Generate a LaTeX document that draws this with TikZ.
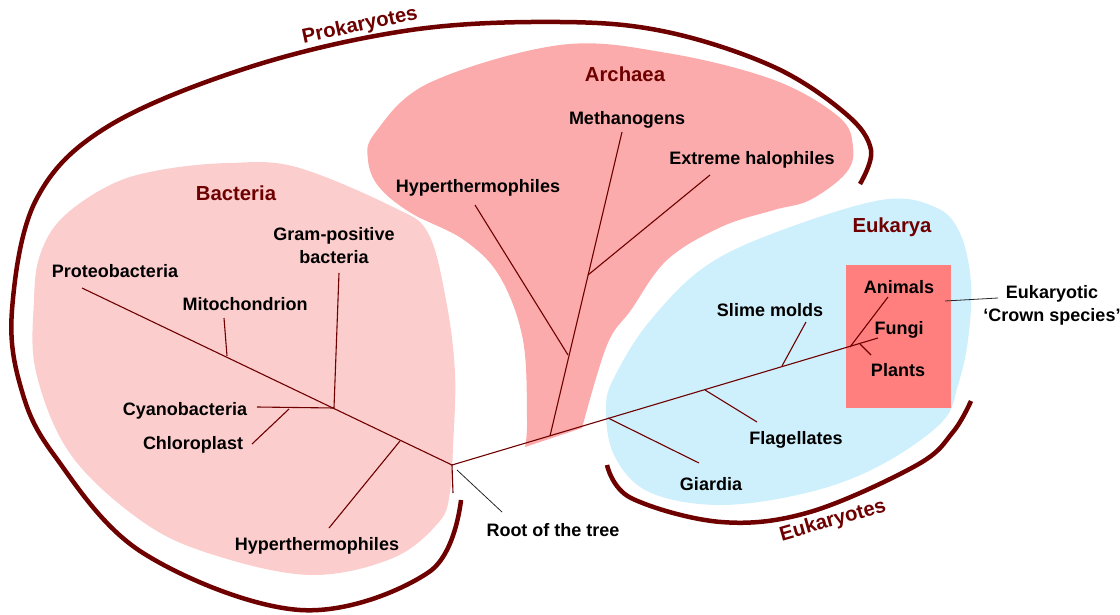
\documentclass[tikz,border=0pt]{standalone}
\usepackage{fontspec}
\setmainfont{Liberation Sans}
\usepackage{xcolor}
\usepackage{tikz}
\usetikzlibrary{positioning}
\definecolor{treeline}{RGB}{110,0,0}
\definecolor{bactfill}{RGB}{252,205,205}
\definecolor{archfill}{RGB}{251,171,171}
\definecolor{eukfill}{RGB}{206,240,252}
\definecolor{crownfill}{RGB}{255,127,127}

\begin{document}
\begin{tikzpicture}[x=1pt, y=-1pt,
  lbl/.style={font=\bfseries\fontsize{18}{23}\selectfont, inner sep=1pt, align=center},
  ttl/.style={font=\bfseries\fontsize{20.3}{24}\selectfont, text=treeline, inner sep=1pt},
  br/.style={draw=treeline, line width=1.1pt},
  grp/.style={draw=treeline, line width=4.5pt},
  ptr/.style={draw=black!85, line width=0.8pt}]
  \useasboundingbox (0,0) rectangle (1120,615);
  % the three domains
  \fill[bactfill] plot[smooth cycle, tension=0.6] coordinates {(229,163) (296,167) (393,207) (428,233) (446,300)
    (455,373) (453,447) (450,492) (439,522) (393,558) (311,575) (214,555) (143,522) (71,455) (36,372) (34,300)
    (40,255) (62,218) (110,185) (160,170)};
  \fill[archfill] plot[smooth, tension=0.6] coordinates {(582,428) (607,345) (631,310) (667,260) (721,227) (774,210)
    (810,200) (846,173) (853,147) (839,117) (774,80) (667,53) (560,45) (429,83) (375,133) (368,160) (379,187)
    (411,213) (464,240) (500,277) (523,340) (527,420) (525,447)} -- cycle;
  \fill[eukfill] plot[smooth cycle, tension=0.6] coordinates {(649,322) (703,268) (774,233) (881,200) (935,207)
    (960,233) (971,283) (968,340) (958,385) (942,422) (881,465) (810,492) (721,505) (649,492) (614,455) (606,405)
    (617,372)};
  \fill[crownfill] (846,265) rectangle (951,408);
  % prokaryotes and eukaryotes brackets
  \draw[grp] plot[smooth, tension=0.6] coordinates {(860,184) (871,150) (846,114) (774,67) (667,32) (560,22)
    (411,30) (250,67) (107,127) (36,200) (12,310) (21,388) (54,455) (143,553) (300,610) (429,572) (461,500)};
  \draw[grp] plot[smooth, tension=0.6] coordinates {(607,465) (631,498) (721,522) (810,512) (917,465) (953,432)
    (971,401)};
  \node[ttl, rotate=12]  (prok)  at (360,26)  {Prokaryotes};
  \node[ttl, rotate=16]  (euks)  at (833,521) {Eukaryotes};
  \node[ttl]             (bact)  at (236,193) {Bacteria};
  \node[ttl]             (arch)  at (625,74)  {Archaea};
  \node[ttl]             (euk)   at (892,227) {Eukarya};
  % labels
  \node[lbl] (proteo)  at (115,271)  {Proteobacteria};
  \node[lbl] (mito)    at (245,304)  {Mitochondrion};
  \node[lbl] (gram)    at (334,246)  {Gram-positive\\bacteria};
  \node[lbl] (cyano)   at (185,411)  {Cyanobacteria};
  \node[lbl] (chloro)  at (193,445)  {Chloroplast};
  \node[lbl] (hyperb)  at (317,546)  {Hyperthermophiles};
  \node[lbl] (rootlbl) at (553,530)  {Root of the tree};
  \node[lbl] (hypera)  at (478,188)  {Hyperthermophiles};
  \node[lbl] (metha)   at (627,120)  {Methanogens};
  \node[lbl] (halo)    at (752,160)  {Extreme halophiles};
  \node[lbl] (slime)   at (770,310)  {Slime molds};
  \node[lbl] (flag)    at (796,440)  {Flagellates};
  \node[lbl] (giardia) at (711,484)  {Giardia};
  \node[lbl] (animals) at (899,287)  {Animals};
  \node[lbl] (fungi)   at (899,330)  {Fungi};
  \node[lbl] (plants)  at (898,370)  {Plants};
  \node[lbl] (crown)   at (1052,305) {Eukaryotic\\‘Crown species’};
  % tree points
  \coordinate (root)   at (452,465);
  \coordinate (stub)   at (453,493);
  \coordinate (pend)   at (82,288);
  \coordinate (mj)     at (227,356);
  \coordinate (mend)   at (224,318);
  \coordinate (gj)     at (334,408);
  \coordinate (gend)   at (339,273);
  \coordinate (cend)   at (257,407);
  \coordinate (chj)    at (289,409);
  \coordinate (chend)  at (252,444);
  \coordinate (hbj)    at (400,441);
  \coordinate (hbend)  at (329,528);
  \coordinate (aj)     at (550,436);
  \coordinate (haj)    at (568,355);
  \coordinate (hj)     at (588,275);
  \coordinate (meend)  at (622,132);
  \coordinate (haend)  at (475,205);
  \coordinate (hlend)  at (710,175);
  \coordinate (fend)   at (878,338);
  \coordinate (gij)    at (608,418);
  \coordinate (giend)  at (699,463);
  \coordinate (flj)    at (705,390);
  \coordinate (flend)  at (757,422);
  \coordinate (slj)    at (782,366);
  \coordinate (slend)  at (806,322);
  \coordinate (crj)    at (850,347);
  \coordinate (anend)  at (888,297);
  \coordinate (plj)    at (860,344);
  \coordinate (plend)  at (871,355);
  \coordinate (rp1)    at (457,470);
  \coordinate (rp2)    at (502,512);
  \coordinate (cp1)    at (945,301);
  \coordinate (cp2)    at (998,298);
  % the tree
  \draw[br] (stub) -- (root) -- (pend);
  \draw[br] (mj) -- (mend);
  \draw[br] (gj) -- (gend);
  \draw[br] (gj) -- (cend);
  \draw[br] (chj) -- (chend);
  \draw[br] (hbj) -- (hbend);
  \draw[br] (root) -- (fend);
  \draw[br] (aj) -- (meend);
  \draw[br] (haj) -- (haend);
  \draw[br] (hj) -- (hlend);
  \draw[br] (gij) -- (giend);
  \draw[br] (flj) -- (flend);
  \draw[br] (slj) -- (slend);
  \draw[br] (crj) -- (anend);
  \draw[br] (plj) -- (plend);
  \draw[ptr] (rp1) -- (rp2);
  \draw[ptr] (cp1) -- (cp2);
\end{tikzpicture}
\end{document}
